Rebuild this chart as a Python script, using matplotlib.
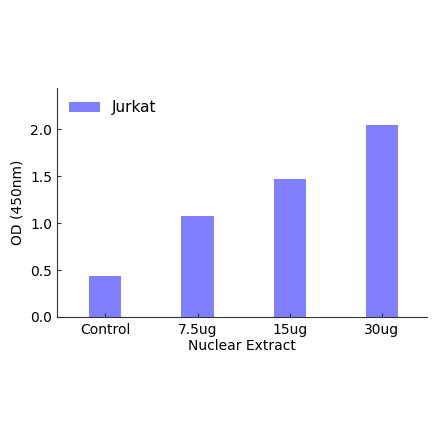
import numpy as np
import matplotlib
matplotlib.use('Agg')
import matplotlib.pyplot as plt

categories = ['Control', '7.5ug', '15ug', '30ug']
jurkat = [0.44, 1.075, 1.47, 2.05]

fig = plt.figure(figsize=(4.4, 4.41), dpi=100)
ax = fig.add_axes([0.1295, 0.2812, 0.841, 0.5193])

x = np.arange(len(categories))
ax.bar(x, jurkat, width=0.35, color='#7f7fff', label='Jurkat')

ax.set_xlim(-0.525, 3.49)
ax.set_ylim(0, 2.44)
ax.set_yticks([0.0, 0.5, 1.0, 1.5, 2.0])
ax.set_yticklabels(['0.0', '0.5', '1.0', '1.5', '2.0'])
ax.set_xticks(x)
ax.set_xticklabels(categories)

ax.spines['top'].set_visible(False)
ax.spines['right'].set_visible(False)
for s in ('left', 'bottom'):
    ax.spines[s].set_color('#333333')
ax.tick_params(direction='in', length=3, labelsize=10, colors='#333333',
               labelcolor='black')
ax.tick_params(axis='x', pad=4)

ax.set_xlabel('Nuclear Extract', fontsize=10, labelpad=2)
ax.set_ylabel('OD (450nm)', fontsize=10)

ax.legend(loc='upper left', frameon=False, fontsize=11, handlelength=2.0,
          handleheight=0.7, borderaxespad=0.4)

fig.savefig('out.png', dpi=100)
